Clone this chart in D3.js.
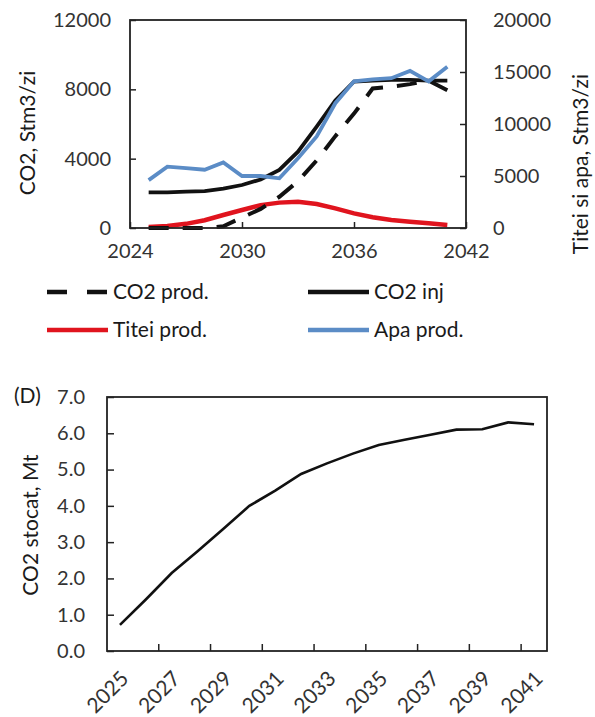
<!DOCTYPE html>
<html>
<head>
<meta charset="UTF-8">
<title>CO2 injectie si stocare</title>
<script src="https://cdnjs.cloudflare.com/ajax/libs/d3/7.8.5/d3.min.js"></script>
<style>
body { margin:0; background:#fff; }
text { font-family: Lato, "Open Sans", sans-serif; }
.tick text { font-size:20px; fill:#333; }
.tick line { stroke:#222; stroke-width:1.5; }
.domain { display:none; }
.frame { fill:none; stroke:#222; stroke-width:1.8; }
.lbl { font-size:21px; fill:#1a1a1a; }
.leg { font-size:21px; fill:#1a1a1a; }
</style>
</head>
<body>
<div id="chart"></div>
<script>
// top panel data (year -> values)
var years = [2025,2026,2027,2028,2029,2030,2031,2032,2033,2034,2035,2036,2037,2038,2039,2040,2041];
var co2Prod  = [0,0,0,0,100,600,1100,1800,2700,3900,5300,6600,8050,8150,8300,8500,7950];        // left axis
var co2Inj   = [2050,2050,2100,2130,2270,2480,2800,3350,4400,5850,7350,8450,8500,8550,8550,8500,8500]; // left axis
var titeiProd= [100,200,400,750,1250,1730,2200,2440,2520,2300,1890,1410,1030,770,610,450,290];    // right axis
var apaProd  = [4600,5900,5750,5600,6300,5000,5000,4780,6700,8800,12000,14100,14300,14400,15100,14100,15500]; // right axis
var topXTicks = [2024,2030,2036,2042];
var leftTicks = [0,4000,8000,12000];
var rightTicks = [0,5000,10000,15000,20000];

// bottom panel (D)
var storedYears = [2025,2026,2027,2028,2029,2030,2031,2032,2033,2034,2035,2036,2037,2038,2039,2040,2041];
var co2Stored = [0.72,1.42,2.15,2.75,3.37,4.0,4.42,4.88,5.17,5.44,5.68,5.82,5.96,6.1,6.11,6.3,6.25];
var stoLabels = [2025,2027,2029,2031,2033,2035,2037,2039,2041];
var stoTicks = [0,1,2,3,4,5,6,7];

var svg = d3.select("#chart").append("svg").attr("width",595).attr("height",717);

// ---------- top chart ----------
var L=130, R=466, T=20, B=228;
var x = d3.scaleLinear().domain([2024,2042]).range([L,R]);
var yL = d3.scaleLinear().domain([0,12000]).range([B,T]);
var yR = d3.scaleLinear().domain([0,20000]).range([B,T]);

svg.append("g").attr("transform","translate("+L+",0)")
  .call(d3.axisLeft(yL).tickValues(leftTicks).tickFormat(d3.format("d")).tickSize(-6).tickSizeOuter(0).tickPadding(19));
svg.append("g").attr("transform","translate("+R+",0)")
  .call(d3.axisRight(yR).tickValues(rightTicks).tickFormat(d3.format("d")).tickSize(-6).tickSizeOuter(0).tickPadding(27));
svg.append("g").attr("transform","translate(0,"+B+")")
  .call(d3.axisBottom(x).tickValues(topXTicks).tickFormat(d3.format("d")).tickSize(-6).tickSizeOuter(0).tickPadding(16));

var lineL = function(vals){ return d3.line().x(function(d,i){return x(years[i]);}).y(function(d){return yL(d);})(vals); };
var lineR = function(vals){ return d3.line().x(function(d,i){return x(years[i]);}).y(function(d){return yR(d);})(vals); };

svg.append("path").attr("d",lineR(titeiProd)).attr("fill","none").attr("stroke","#e0141e").attr("stroke-width",4.5);
svg.append("path").attr("d",lineL(co2Prod)).attr("fill","none").attr("stroke","#111").attr("stroke-width",4).attr("stroke-dasharray","20,14");
svg.append("path").attr("d",lineL(co2Inj)).attr("fill","none").attr("stroke","#111").attr("stroke-width",3.8);
svg.append("path").attr("d",lineR(apaProd)).attr("fill","none").attr("stroke","#5b8cc6").attr("stroke-width",3.8);

svg.append("rect").attr("class","frame").attr("x",L).attr("y",T).attr("width",R-L).attr("height",B-T);

svg.append("text").attr("class","lbl").attr("text-anchor","middle")
  .attr("transform","translate(35,133) rotate(-90)").text("CO2, Stm3/zi");
svg.append("text").attr("class","lbl").attr("text-anchor","middle")
  .attr("transform","translate(588,164) rotate(-90)").text("Titei si apa, Stm3/zi");

// legend
var leg = [
  {name:"CO2 prod.", color:"#111", dash:"20,20", x:47, y:292},
  {name:"CO2 inj", color:"#111", dash:null, x:308, y:292},
  {name:"Titei prod.", color:"#e0141e", dash:null, x:47, y:330},
  {name:"Apa prod.", color:"#5b8cc6", dash:null, x:308, y:330}
];
leg.forEach(function(d){
  svg.append("line").attr("x1",d.x).attr("x2",d.x+61).attr("y1",d.y).attr("y2",d.y)
    .attr("stroke",d.color).attr("stroke-width",4.5).attr("stroke-dasharray",d.dash);
  svg.append("text").attr("class","leg").attr("x",d.x+66).attr("y",d.y+7).text(d.name);
});

// ---------- bottom chart (D) ----------
var L2=107, R2=547, T2=397, B2=651;
var xb = d3.scaleBand().domain(storedYears).range([L2,R2]);
var yb = d3.scaleLinear().domain([0,7]).range([B2,T2]);
var bw = xb.bandwidth();

svg.append("g").attr("transform","translate("+L2+",0)")
  .call(d3.axisLeft(yb).tickValues(stoTicks).tickFormat(d3.format(".1f")).tickSize(-7).tickSizeOuter(0).tickPadding(22));

var xg = svg.append("g").attr("transform","translate(0,"+B2+")")
  .call(d3.axisBottom(xb).tickValues(stoLabels).tickSize(0).tickPadding(0));
xg.selectAll(".tick text")
  .attr("text-anchor","end").attr("dy",null).style("font-size","21px")
  .attr("transform","translate(10,29) rotate(-45)");

// tick marks on category boundaries, every second one
svg.selectAll(".btick").data(storedYears.filter(function(d,i){return i>0 && i%2==0;}))
  .enter().append("line")
  .attr("x1",function(d){return xb(d);}).attr("x2",function(d){return xb(d);})
  .attr("y1",B2).attr("y2",B2-7).attr("stroke","#222").attr("stroke-width",1.5);

svg.append("path")
  .attr("d",d3.line().x(function(d,i){return xb(storedYears[i])+bw/2;}).y(function(d){return yb(d);})(co2Stored))
  .attr("fill","none").attr("stroke","#111").attr("stroke-width",2.6);

svg.append("rect").attr("class","frame").attr("x",L2).attr("y",T2).attr("width",R2-L2).attr("height",B2-T2);

svg.append("text").attr("class","lbl").attr("text-anchor","middle")
  .attr("transform","translate(38,525) rotate(-90)").text("CO2 stocat, Mt");
svg.append("text").attr("class","lbl").attr("x",14).attr("y",403).text("(D)");
</script>
</body>
</html>
